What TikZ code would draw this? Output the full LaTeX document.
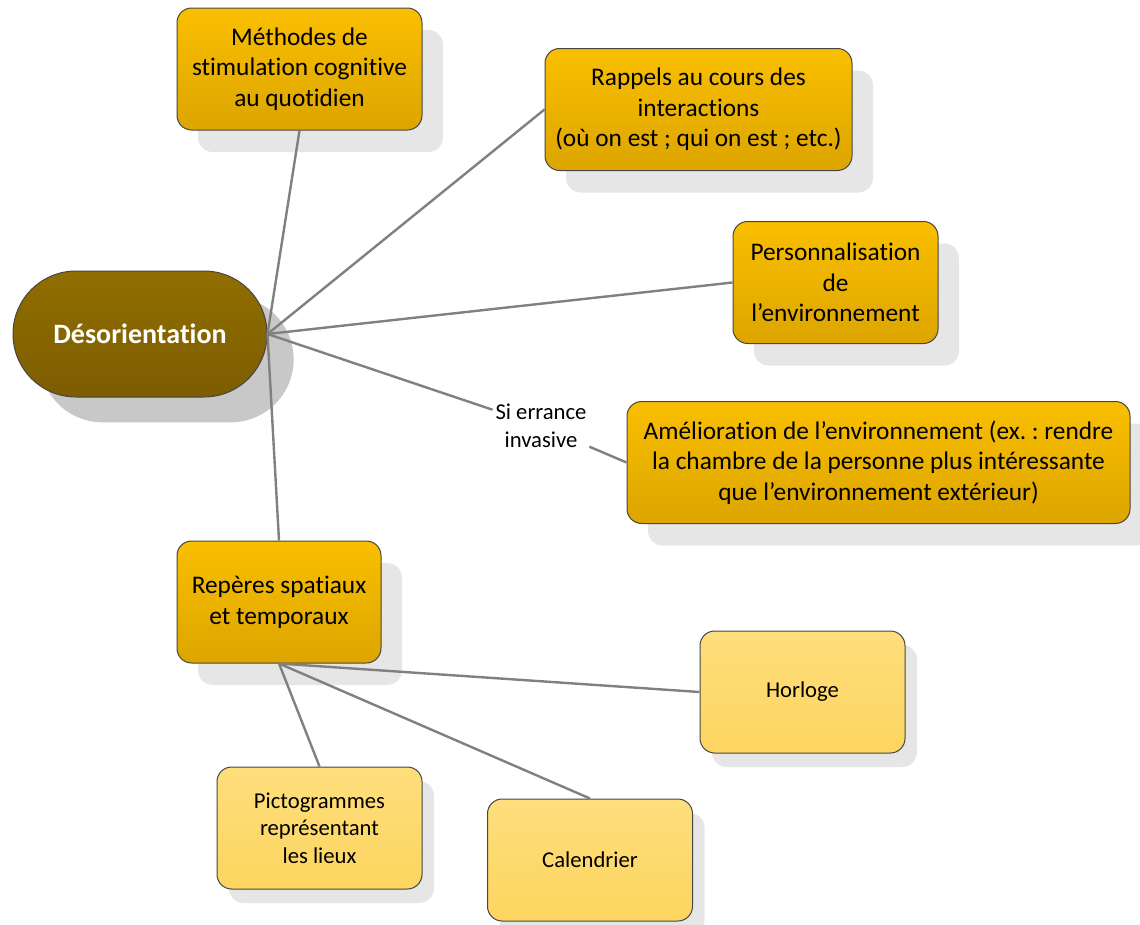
\documentclass[tikz,border=0pt]{standalone}
\usepackage{fontspec}
\setmainfont{Carlito}[Ligatures=NoCommon]
\usetikzlibrary{shapes.misc,shadows}
\definecolor{orgtop}{RGB}{250,191,0}
\definecolor{orgbot}{RGB}{220,165,0}
\definecolor{paletop}{RGB}{254,222,125}
\definecolor{palebot}{RGB}{253,213,95}
\definecolor{brntop}{RGB}{145,110,0}
\definecolor{brnbot}{RGB}{124,93,0}
\definecolor{boxline}{RGB}{70,70,70}
\definecolor{linkgray}{RGB}{128,128,128}
\definecolor{shadelight}{RGB}{230,230,230}
\definecolor{shadedark}{RGB}{200,200,200}
\frenchspacing
\begin{document}
\begin{tikzpicture}[x=0.75pt,y=-0.75pt,
  basebox/.style={draw=boxline,line width=0.75pt,rounded corners=11pt,
    align=center,inner sep=0pt,minimum height=91.5pt},
  box/.style={basebox,top color=orgtop,bottom color=orgbot,font=\fontsize{19}{23}\selectfont,
    drop shadow={shadow xshift=15.75pt,shadow yshift=-16.5pt,fill=shadelight,opacity=1}},
  subbox/.style={basebox,top color=paletop,bottom color=palebot,minimum width=153.75pt,
    font=\fontsize{17}{20.6}\selectfont,
    drop shadow={shadow xshift=9pt,shadow yshift=-10.5pt,fill=shadelight,opacity=1}},
  link/.style={draw=linkgray,line width=1.8pt}]
\useasboundingbox (0,0) rectangle (1140,925);
% centre
\node[rounded rectangle,draw=boxline,line width=0.75pt,top color=brntop,bottom color=brnbot,
  minimum width=190.5pt,minimum height=94.5pt,inner sep=0pt,text=white,
  font=\fontsize{21}{25}\selectfont\bfseries,
  drop shadow={shadow xshift=20pt,shadow yshift=-19pt,fill=shadedark,opacity=1}]
  (deso) at (140,334) {Désorientation};
% branches
\node[box,minimum width=183.75pt] (methodes) at (299.5,69) {Méthodes de\\stimulation cognitive\\au quotidien};
\node[box,minimum width=230.25pt] (rappels) at (698.5,109.5) {Rappels au cours des\\interactions\\(où on est ; qui on est ; etc.)};
\node[box,minimum width=153.75pt] (perso) at (835.5,282.5) {Personnalisation\\de\\l’environnement};
\node[box,minimum width=377.25pt] (amelio) at (878.5,462.5) {Amélioration de l’environnement (ex. : rendre\\la chambre de la personne plus intéressante\\que l’environnement extérieur)};
\node[box,minimum width=153pt] (reperes) at (279,602) {Repères spatiaux\\et temporaux};
\node[align=center,inner sep=2pt,font=\fontsize{17}{20.6}\selectfont] (errance) at (541,426) {Si errance\\invasive};
% reperes
\node[subbox] (horloge) at (802.5,692) {Horloge};
\node[subbox] (picto) at (319.5,828) {Pictogrammes\\représentant\\les lieux};
\node[subbox] (calend) at (590,860) {Calendrier};
% liens
\draw[link] (methodes.south) -- (deso.east);
\draw[link] (deso.east) -- (rappels.west);
\draw[link] (deso.east) -- (perso.west);
\draw[link] (deso.east) -- (errance) -- (amelio.west);
\draw[link] (deso.east) -- (reperes.north);
\draw[link] (reperes.south) -- (horloge.west);
\draw[link] (reperes.south) -- (picto.north);
\draw[link] (reperes.south) -- (calend.north);
\end{tikzpicture}
\end{document}
